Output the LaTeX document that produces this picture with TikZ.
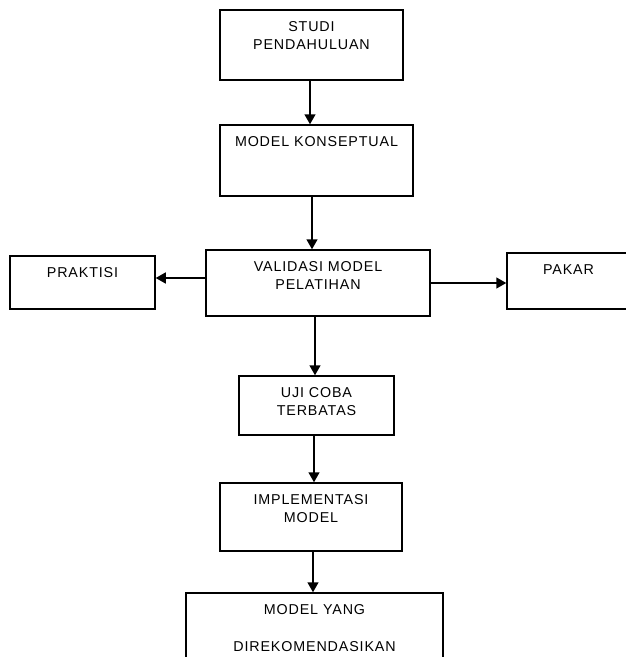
\documentclass[tikz,border=0pt]{standalone}
\usepackage{fontspec}
\setmainfont[LetterSpace=6]{Liberation Sans}
\usetikzlibrary{arrows.meta}
\newcommand{\isi}[3]{\parbox[c][#2][t]{#1}{\centering\rule{0pt}{21pt}#3}}

\begin{document}
\begin{tikzpicture}[
        x=1pt, y=-1pt,
        font=\fontsize{14.3}{18}\selectfont,
    ]
    \useasboundingbox (0,0) rectangle (626,657);

    \tikzstyle{kotak} = [rectangle, draw=black, line width=1.5pt, inner sep=0pt]
    \tikzstyle{panah} = [-{Triangle[width=11pt,length=10pt]}, line width=1.5pt]
    % Nodes
    \node[kotak] (studi) at (311.5,45) {\isi{183pt}{70pt}{STUDI\\PENDAHULUAN}};
    \node[kotak] (konsep) at (316.5,160.5) {\isi{193pt}{71pt}{MODEL KONSEPTUAL}};
    \node[kotak] (validasi) at (318,283) {\isi{224pt}{66pt}{VALIDASI MODEL\\PELATIHAN}};
    \node[kotak] (praktisi) at (82.5,282.5) {\isi{145pt}{53pt}{PRAKTISI}};
    \node[kotak] (pakar) at (568.5,281) {\isi{123pt}{56pt}{PAKAR}};
    \node[kotak] (ujicoba) at (316.5,405.5) {\isi{155pt}{59pt}{UJI COBA\\TERBATAS}};
    \node[kotak] (implementasi) at (311,517) {\isi{182pt}{68pt}{IMPLEMENTASI\\MODEL}};
    \node[kotak] (rekomendasi) at (314.5,630) {\isi{257pt}{74pt}{MODEL YANG\\[19pt]DIREKOMENDASIKAN}};

    % Arrows
    \draw[panah] ([xshift=-1.5pt]studi.south) -- ([xshift=-1.5pt]studi.south |- konsep.north);
    \draw[panah] ([xshift=-4.5pt]konsep.south) -- ([xshift=-4.5pt]konsep.south |- validasi.north);
    \draw[panah] ([xshift=-3pt]validasi.south) -- ([xshift=-3pt]validasi.south |- ujicoba.north);
    \draw[panah] ([xshift=-2.5pt]ujicoba.south) -- ([xshift=-2.5pt]ujicoba.south |- implementasi.north);
    \draw[panah] ([xshift=2pt]implementasi.south) -- ([xshift=2pt]implementasi.south |- rekomendasi.north);

    % Side arrows
    \draw[panah] ([yshift=5pt]validasi.west) -- ([yshift=5pt]validasi.west -| praktisi.east);
    \draw[panah] (validasi.east) -- (validasi.east -| pakar.west);

\end{tikzpicture}
\end{document}
